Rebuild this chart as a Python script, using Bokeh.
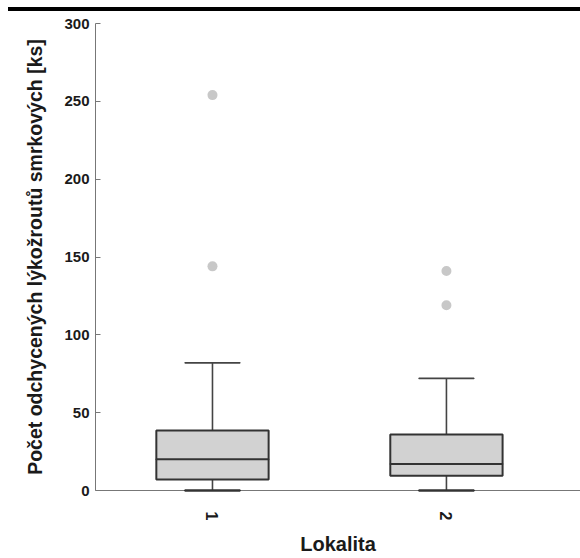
from bokeh.plotting import figure
from bokeh.models import Range1d, FixedTicker, ColumnDataSource, Div
from bokeh.layouts import column
from bokeh.embed import file_html
from bokeh.resources import INLINE

# Data
categories = ["1", "2"]
positions = [1, 2]
lower_whisker = [0, 0]
q1 = [7, 9.5]
median = [20, 17]
q3 = [38.5, 36]
upper_whisker = [82, 72]
outlier_x = [1, 1, 2, 2]
outlier_y = [254, 144, 141, 119]
y_ticks = [0, 50, 100, 150, 200, 250, 300]

FONT = "Liberation Sans"

p = figure(width=580, height=547, output_backend="svg", toolbar_location=None,
           x_range=Range1d(0.5, 2.573), y_range=Range1d(0, 300),
           min_border_left=95, min_border_right=0, min_border_top=12,
           min_border_bottom=67, margin=0)
p.outline_line_color = None
p.grid.grid_line_color = None
p.background_fill_color = "white"

box_w = 0.48
cap_w = 0.235

src = ColumnDataSource(dict(x=positions, lo=lower_whisker, q1=q1, med=median,
                            q3=q3, hi=upper_whisker))

# whiskers
p.segment(x0="x", y0="q3", x1="x", y1="hi", source=src, line_color="#444444", line_width=1.6)
p.segment(x0="x", y0="lo", x1="x", y1="q1", source=src, line_color="#444444", line_width=1.6)
# caps
p.rect(x="x", y="hi", width=cap_w, height=0.01, source=src, fill_color=None,
       line_color="#444444", line_width=1.6)
low_caps = p.rect(x="x", y="lo", width=cap_w, height=0.01, source=src, fill_color=None,
                  line_color="#333333", line_width=2.4)
low_caps.level = "overlay"
# boxes
p.vbar(x="x", width=box_w, bottom="q1", top="q3", source=src,
       fill_color="#d2d2d2", line_color="#333333", line_width=2)
# median
p.rect(x="x", y="med", width=box_w, height=0.01, source=src, fill_color=None,
       line_color="#333333", line_width=2)

# outliers
p.scatter(x=outlier_x, y=outlier_y, size=10, fill_color="#c8c8c8",
          line_color=None)

# axes
p.xaxis.ticker = FixedTicker(ticks=positions)
p.xaxis.major_label_overrides = {pos: lab for pos, lab in zip(positions, categories)}
p.xaxis.major_label_orientation = "vertical"
p.xaxis.major_tick_line_color = None
p.xaxis.minor_tick_line_color = None
p.xaxis.axis_line_color = "#777777"
p.xaxis.major_label_text_font = FONT
p.xaxis.major_label_text_font_style = "bold"
p.xaxis.major_label_text_font_size = "16px"
p.xaxis.major_label_text_color = "#1a1a1a"
p.xaxis.major_label_standoff = 15
p.xaxis.axis_label = "Lokalita"
p.xaxis.axis_label_text_font = FONT
p.xaxis.axis_label_text_font_style = "bold"
p.xaxis.axis_label_text_font_size = "20px"
p.xaxis.axis_label_text_color = "#1a1a1a"
p.xaxis.axis_label_standoff = 10

p.yaxis.ticker = FixedTicker(ticks=y_ticks)
p.yaxis.minor_tick_line_color = None
p.yaxis.major_tick_in = 5
p.yaxis.major_tick_out = 0
p.yaxis.major_tick_line_color = "#777777"
p.yaxis.axis_line_color = "#777777"
p.yaxis.major_label_text_font = FONT
p.yaxis.major_label_text_font_style = "bold"
p.yaxis.major_label_text_font_size = "15px"
p.yaxis.major_label_text_color = "#1a1a1a"
p.yaxis.major_label_standoff = 6
p.yaxis.axis_label = "Počet odchycených lýkožroutů smrkových [ks]"
p.yaxis.axis_label_text_font = FONT
p.yaxis.axis_label_text_font_style = "bold"
p.yaxis.axis_label_text_font_size = "19.5px"
p.yaxis.axis_label_text_color = "#1a1a1a"
p.yaxis.axis_label_standoff = 15

# thick rule across the top of the page
top_rule = Div(text="", width=572, height=4, margin=(7, 0, 0, 8),
               styles={"background-color": "black"})

layout = column(top_rule, p, spacing=0, margin=0)

open("out.html", "w").write(file_html(layout, INLINE))
